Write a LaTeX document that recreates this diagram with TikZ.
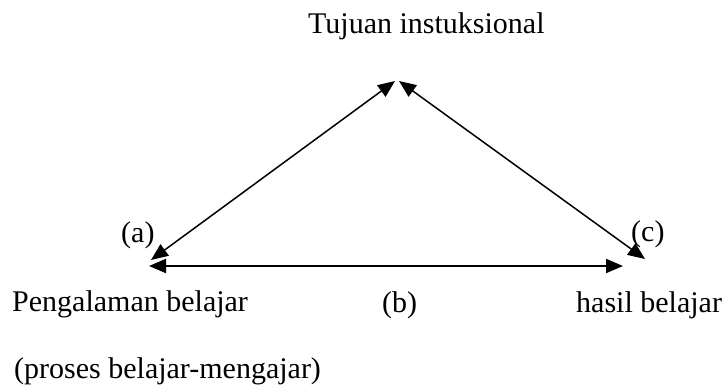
\documentclass[tikz,border=0pt]{standalone}
\usepackage{fontspec}
\setmainfont{Liberation Serif}
\usetikzlibrary{arrows.meta}
\tikzset{
  lbl/.style={inner sep=0pt, anchor=base west, font=\fontsize{30}{35}\selectfont},
  link/.style={line width=1.5pt, {Triangle[length=17pt,width=14pt]}-{Triangle[length=17pt,width=14pt]}},
  hlink/.style={line width=2pt, {Triangle[length=17pt,width=14pt]}-{Triangle[length=17pt,width=14pt]}}
}
\begin{document}
\begin{tikzpicture}[x=1pt,y=-1pt]
\useasboundingbox (0,0) rectangle (727,385);
\node[lbl] (tujuan) at (308,34) {Tujuan instuksional};
\node[lbl] (peng) at (12,311) {Pengalaman belajar};
\node[lbl] (b) at (382,312) {(b)};
\node[lbl] (hasil) at (576,312) {hasil belajar};
\node[lbl] (proses) at (14,378) {(proses belajar-mengajar)};
\node[lbl] (a) at (121,242) {(a)};
\node[lbl] (c) at (631,241) {(c)};
\coordinate (tl) at (395,81);
\coordinate (tr) at (399,81);
\coordinate (l1) at (151,260);
\coordinate (l2) at (149,266);
\coordinate (r2) at (623,266);
\coordinate (r1) at (645,259);
\draw[link] (l1) -- (tl);
\draw[link] (r1) -- (tr);
\draw[hlink] (l2) -- (r2);
\end{tikzpicture}
\end{document}
